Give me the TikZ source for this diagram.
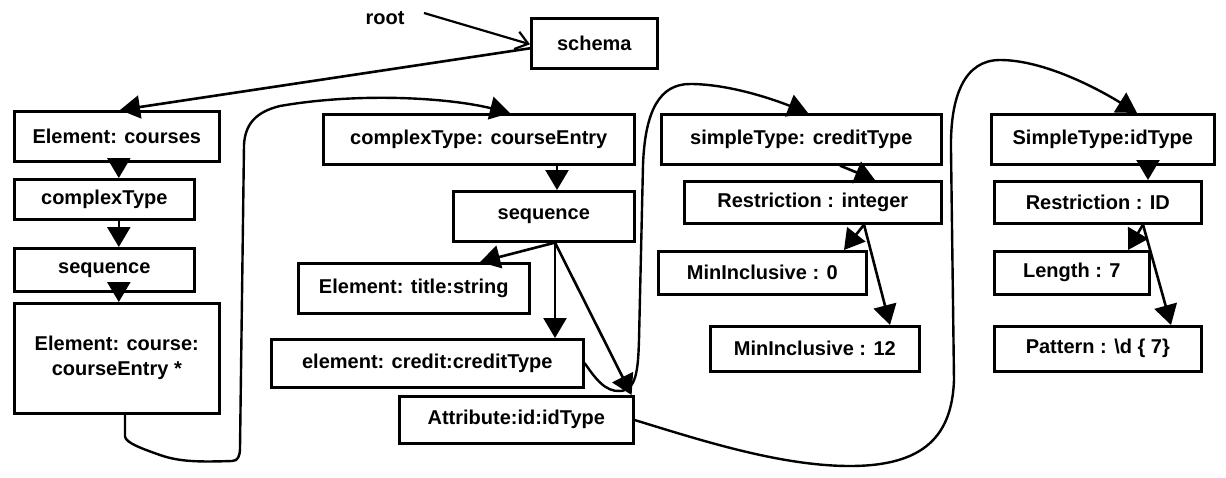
\documentclass[tikz,border=0pt]{standalone}
\usepackage{fontspec}
\setmainfont{Liberation Sans}
\usetikzlibrary{arrows.meta}
\begin{document}
\begin{tikzpicture}[x=1pt,y=-1pt,
  every node/.style={font=\fontsize{20}{25}\selectfont\bfseries},
  tbox/.style={draw,line width=2.6pt,inner sep=0pt,anchor=north west,align=center},
  link/.style={line width=2.6pt,-{Triangle[length=20pt,width=23pt]}},
  loop/.style={line width=2.4pt,line join=round,-{Triangle[length=20pt,width=23pt]}}]
\useasboundingbox (0,0) rectangle (1226,477);

% --- boxes (top-left corner, width, height) ---
\node (root) at (385,18) {root};
\node[tbox,minimum width=126pt,minimum height=50pt] (schema) at (530,17) {schema};

\node[tbox,minimum width=205pt,minimum height=50pt] (ecourses) at (13,110) {Element: courses};
\node[tbox,minimum width=180pt,minimum height=40pt] (ctype) at (13,178) {complexType};
\node[tbox,minimum width=180pt,minimum height=43pt] (seqL) at (13,247) {sequence};
\node[tbox,minimum width=205pt,minimum height=110pt] (ecourse) at (13,302) {Element: course:\\courseEntry *};

\node[tbox,minimum width=311pt,minimum height=50pt] (cte) at (322,113) {complexType: courseEntry};
\node[tbox,minimum width=181pt,minimum height=50pt] (seqM) at (452,190) {sequence};
\node[tbox,minimum width=231pt,minimum height=50pt] (etitle) at (297,262) {Element: title:string};
\node[tbox,minimum width=312pt,minimum height=48pt] (ecredit) at (270,338) {element: credit:creditType};
\node[tbox,minimum width=234pt,minimum height=47pt] (attr) at (398,395) {Attribute:id:idType};

\node[tbox,minimum width=280pt,minimum height=50pt] (stcredit) at (660,113) {simpleType: creditType};
\node[tbox,minimum width=257pt,minimum height=42pt] (restInt) at (683,180) {Restriction : integer};
\node[tbox,minimum width=208pt,minimum height=43pt] (min0) at (657,250) {MinInclusive : 0};
\node[tbox,minimum width=209pt,minimum height=45pt] (min12) at (709,325) {MinInclusive : 12};

\node[tbox,minimum width=223pt,minimum height=50pt] (stid) at (990,113) {SimpleType:idType};
\node[tbox,minimum width=207pt,minimum height=42pt] (restID) at (993,180) {Restriction : ID};
\node[tbox,minimum width=155pt,minimum height=43pt] (len) at (993,250) {Length : 7};
\node[tbox,minimum width=207pt,minimum height=45pt] (pat) at (993,325) {Pattern : \textbackslash d \{ 7\}};

% --- straight connectors ---
\draw[line width=2.2pt,-{Straight Barb[length=12pt,width=18pt]}] ([xshift=16pt,yshift=5pt]root.east) -- ([yshift=-1pt]schema.west);
\draw[link] ([yshift=-5pt]schema.west) -- ([xshift=107pt]ecourses.north west);

\draw[link] ([xshift=2pt]ecourses.south) -- ([xshift=2pt]ecourses.south |- ctype.north);
\draw[link] ([xshift=2pt]ecourses.south |- ctype.south) -- ([xshift=2pt]ecourses.south |- seqL.north);
\draw[link] ([xshift=2pt]ecourses.south |- seqL.south) -- ([xshift=2pt]ecourses.south |- ecourse.north);

\draw[link] ([xshift=235pt]cte.south west) -- ([xshift=235pt]cte.south west |- seqM.north);
\draw[link] ([xshift=103pt]seqM.south west) -- ([xshift=183pt]etitle.north west);
\draw[link] ([xshift=103pt]seqM.south west) -- ([xshift=285pt]ecredit.north west);
\draw[link] ([xshift=103pt]seqM.south west) -- ([xshift=-3pt]attr.north east);

\draw[link] ([xshift=180pt]stcredit.south west) -- ([xshift=192pt]restInt.north west);
\draw[link] ([xshift=181pt]restInt.south west) -- ([xshift=187pt]min0.north west);
\draw[link] ([xshift=181pt]restInt.south west) -- ([xshift=181pt]min12.north west);

\draw[link] ([xshift=158pt]stid.south west) -- ([xshift=155pt]restID.north west);
\draw[link] ([xshift=150pt]restID.south west) -- ([xshift=135pt]len.north west);
\draw[link] ([xshift=150pt]restID.south west) -- ([xshift=178pt]pat.north west);

% --- type references looping to their definitions ---
\draw[loop] ([xshift=112pt]ecourse.south west) -- ++(0,22)
  .. controls +(1,6) and (140,448) .. (160,455)
  .. controls (180,462) and (200,462) .. (232,461)
  .. controls (238,461) and (240,456) .. (240,448) -- (244,145)
  .. controls (245,125) and (255,112) .. (280,106)
  .. controls (360,92) and (450,98) .. ([xshift=188pt]cte.north west);

\draw[loop] ([yshift=-25pt]ecredit.north east)
  .. controls (595,378) and (605,392) .. (620,391)
  .. controls (636,390) and (638,372) .. (639,340) -- (643,165)
  .. controls (645,110) and (660,84) .. (690,84)
  .. controls (730,84) and (775,100) .. ([xshift=148pt]stcredit.north west);

\draw[loop] ([yshift=-25pt]attr.north east)
  .. controls (700,440) and (780,466) .. (850,466)
  .. controls (925,466) and (952,435) .. (954,380) -- (951,150)
  .. controls (950,95) and (965,60) .. (1000,60)
  .. controls (1045,60) and (1100,90) .. ([xshift=147pt]stid.north west);
\end{tikzpicture}
\end{document}
